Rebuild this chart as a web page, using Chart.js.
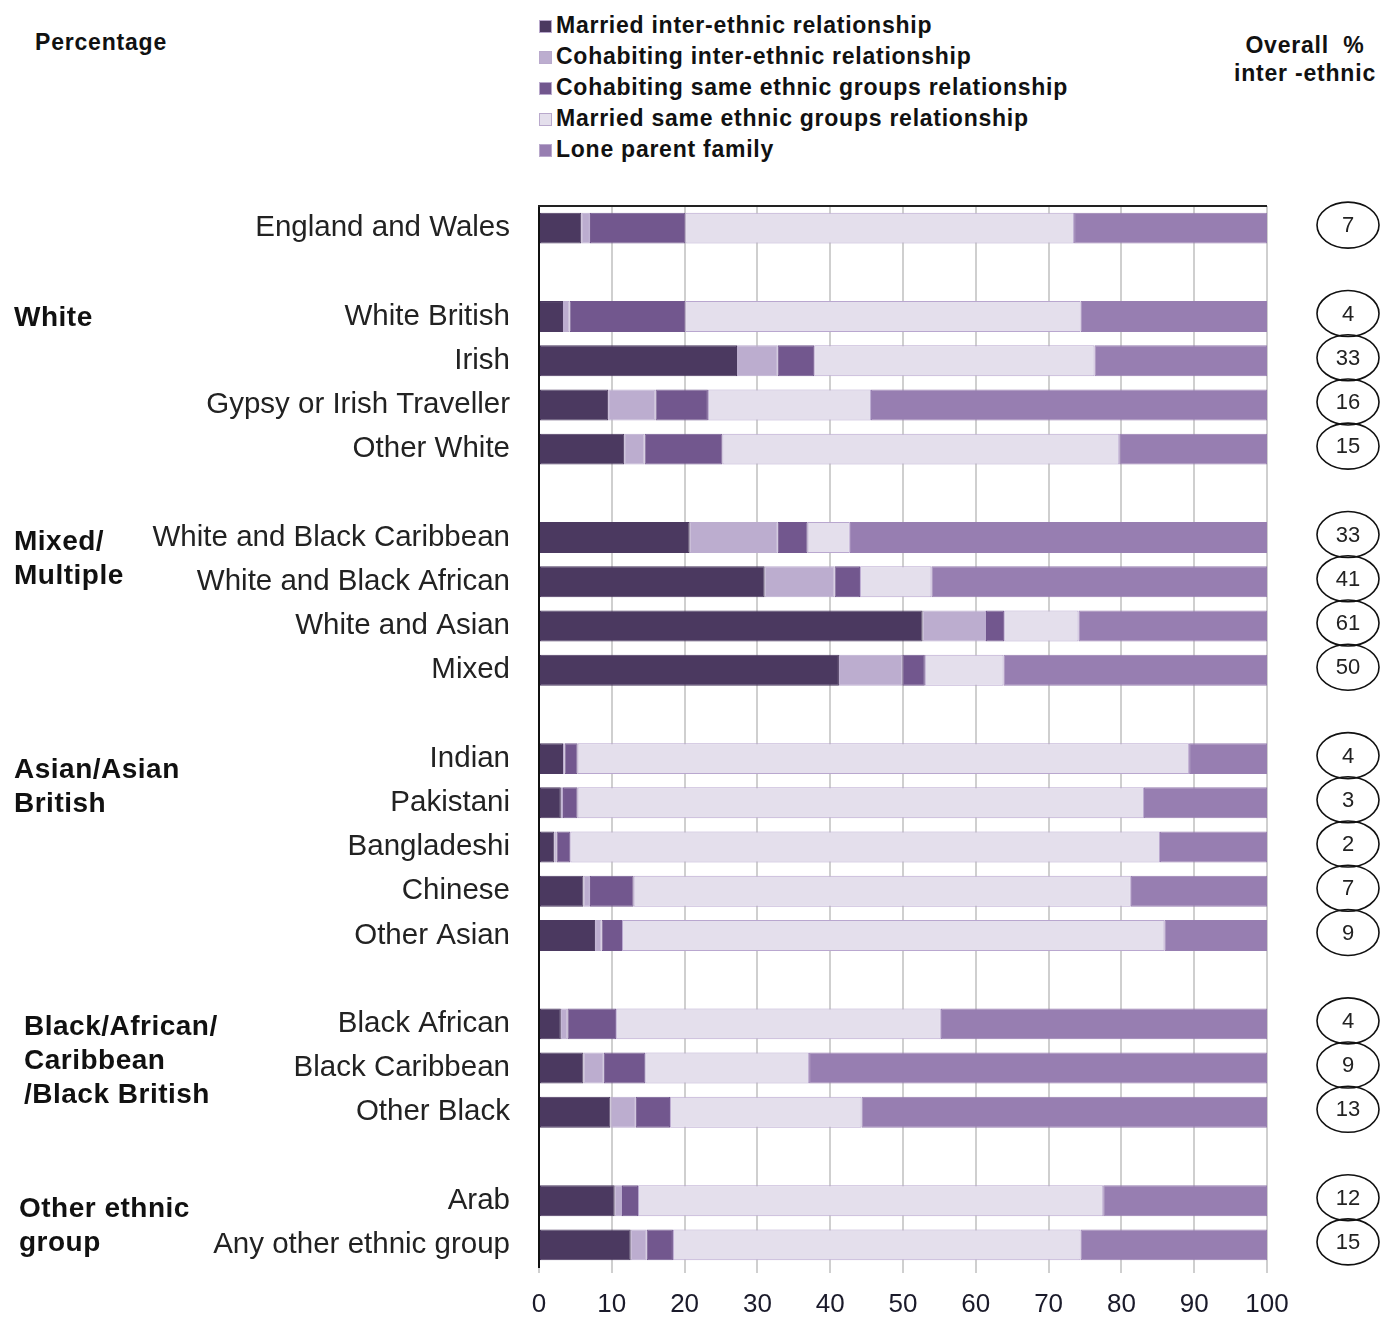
<!DOCTYPE html>
<html>
<head>
<meta charset="utf-8">
<script src="https://cdn.jsdelivr.net/npm/chart.js@4.4.1/dist/chart.umd.min.js"></script>
<style>
  html, body { margin: 0; padding: 0; background: #fff; }
  body { width: 1383px; height: 1318px; position: relative; overflow: hidden; font-family: "Liberation Sans", Arial, sans-serif; }
  #wrap { position: absolute; left: 0; top: 0; width: 1383px; height: 1318px; }
  .legend { position: absolute; left: 539px; top: 10px; }
  .legend div { height: 31px; line-height: 31px; font-size: 23px; font-weight: bold; color: #111; white-space: nowrap; letter-spacing: 0.75px; }
  .legend span.sw { display: inline-block; width: 13px; height: 13px; margin-right: 4px; vertical-align: 0px; box-sizing: border-box; border: 1px solid #b9a9cc; }
  .pct { position: absolute; left: 35px; top: 29px; font-size: 23px; font-weight: bold; color: #111; letter-spacing: 0.8px; }
  .overall { position: absolute; left: 1225px; top: 31px; width: 160px; text-align: center; font-size: 23px; font-weight: bold; color: #111; line-height: 28px; letter-spacing: 0.8px; }
</style>
</head>
<body>
<div class="pct">Percentage</div>
<div class="legend" id="legend"></div>
<div class="overall">Overall &nbsp;%<br>inter -ethnic</div>
<div id="wrap"><canvas id="chart"></canvas></div>
<script>
// categories ('' = spacer row between groups)
const categories = [
  "England and Wales", "",
  "White British", "Irish", "Gypsy or Irish Traveller", "Other White", "",
  "White and Black Caribbean", "White and Black African", "White and Asian", "Mixed", "",
  "Indian", "Pakistani", "Bangladeshi", "Chinese", "Other Asian", "",
  "Black African", "Black Caribbean", "Other Black", "",
  "Arab", "Any other ethnic group"
];

// series values (percent of families)
const marriedInter = [5.8, null, 3.3, 27.2, 9.5, 11.7, null, 20.7, 31.0, 52.7, 41.2, null, 3.3, 3.0, 2.1, 6.1, 7.7, null, 3.0, 6.1, 9.8, null, 10.4, 12.6];
const cohabInter   = [1.2, null, 0.9, 5.6, 6.5, 2.8, null, 12.1, 9.6, 8.7, 8.7, null, 0.2, 0.3, 0.3, 0.9, 0.9, null, 0.9, 2.8, 3.5, null, 1.0, 2.2];
const cohabSame    = [13.1, null, 15.9, 5.0, 7.2, 10.7, null, 4.1, 3.5, 2.5, 3.1, null, 1.8, 2.0, 1.9, 6.0, 2.8, null, 6.7, 5.7, 4.7, null, 2.2, 3.6];
const marriedSame  = [53.4, null, 54.3, 38.5, 22.4, 54.5, null, 5.8, 9.8, 10.2, 10.8, null, 84.0, 77.8, 81.0, 68.3, 74.5, null, 44.6, 22.5, 26.3, null, 63.9, 56.0];
const loneParent   = [26.5, null, 25.6, 23.7, 54.4, 20.3, null, 57.3, 46.1, 25.9, 36.2, null, 10.7, 16.9, 14.7, 18.7, 14.1, null, 44.8, 62.9, 55.7, null, 22.5, 25.6];

// overall % inter-ethnic (circled numbers on the right)
const overallPct = [7, null, 4, 33, 16, 15, null, 33, 41, 61, 50, null, 4, 3, 2, 7, 9, null, 4, 9, 13, null, 12, 15];

// x axis ticks
const xTicks = [0, 10, 20, 30, 40, 50, 60, 70, 80, 90, 100];

// group headings on the left, anchored to a row
const groupNames = [
  ["White"],
  ["Mixed/", "Multiple"],
  ["Asian/Asian", "British"],
  ["Black/African/", "Caribbean", "/Black British"],
  ["Other ethnic", "group"]
];
const groupRows = ["White British", "White and Black Caribbean", "Indian", "Black African", "Arab"];

const seriesNames = [
  "Married inter-ethnic relationship",
  "Cohabiting inter-ethnic relationship",
  "Cohabiting same ethnic groups relationship",
  "Married same ethnic groups relationship",
  "Lone parent family"
];
const seriesColors = ["#4b3960", "#bcadcf", "#72578e", "#e4dfec", "#977eb1"];
const seriesBorders = ["#4b3960", "#bcadcf", "#72578e", "#b9a7cf", "#977eb1"];
const seriesData = [marriedInter, cohabInter, cohabSame, marriedSame, loneParent];

const FONT = '"Liberation Sans", Arial, sans-serif';

// html legend
const legend = document.getElementById("legend");
seriesNames.forEach((name, i) => {
  const row = document.createElement("div");
  row.innerHTML = `<span class="sw" style="background:${seriesColors[i]}"></span>${name}`;
  legend.appendChild(row);
});

const extras = {
  id: "extras",
  afterDraw(chart) {
    const { ctx, chartArea, scales } = chart;
    const y = scales.y;
    ctx.save();
    // top frame line
    ctx.strokeStyle = "#222";
    ctx.lineWidth = 2;
    ctx.beginPath();
    ctx.moveTo(chartArea.left - 1, chartArea.top);
    ctx.lineTo(chartArea.right, chartArea.top);
    ctx.stroke();

    // group headings
    ctx.fillStyle = "#111";
    ctx.font = "bold 28px " + FONT;
    ctx.letterSpacing = "0.5px";
    ctx.textAlign = "left";
    ctx.textBaseline = "middle";
    const xs = [14, 14, 14, 24, 19];
    const dy = [2, 5, 12, 3, 9];
    groupNames.forEach((lines, g) => {
      const idx = categories.indexOf(groupRows[g]);
      const y0 = y.getPixelForValue(idx);
      lines.forEach((t, k) => ctx.fillText(t, xs[g], y0 + dy[g] + k * 34));
    });

    // circled overall numbers
    ctx.letterSpacing = "0px";
    ctx.font = "22px " + FONT;
    ctx.textAlign = "center";
    overallPct.forEach((v, i) => {
      if (v == null) return;
      const cy = y.getPixelForValue(i) - 3;
      const cx = 1348;
      ctx.beginPath();
      ctx.ellipse(cx, cy, 31, 23, 0, 0, Math.PI * 2);
      ctx.strokeStyle = "#111";
      ctx.lineWidth = 1.6;
      ctx.stroke();
      ctx.fillStyle = "#222";
      ctx.fillText(String(v), cx, cy + 1);
    });
    ctx.restore();
  }
};

new Chart(document.getElementById("chart"), {
  type: "bar",
  data: {
    labels: categories,
    datasets: seriesData.map((d, i) => ({
      label: seriesNames[i],
      data: d,
      backgroundColor: seriesColors[i],
      borderColor: seriesBorders[i],
      borderWidth: 1,
      borderSkipped: false,
      categoryPercentage: 1,
      barPercentage: 0.7
    }))
  },
  options: {
    indexAxis: "y",
    responsive: true,
    maintainAspectRatio: false,
    animation: false,
    layout: { padding: { left: 0, right: 116, top: 206, bottom: 0 } },
    plugins: { legend: { display: false }, tooltip: { enabled: false } },
    scales: {
      x: {
        stacked: true,
        min: 0,
        max: 100,
        afterBuildTicks: (s) => { s.ticks = xTicks.map((v) => ({ value: v })); },
        afterFit: (s) => { s.height = 51; },
        ticks: { color: "#1a1a2a", font: { family: FONT, size: 26 }, padding: 16, maxRotation: 0 },
        grid: { color: "#cfcfcf", lineWidth: 2, tickLength: 6, drawOnChartArea: true },
        border: { display: false }
      },
      y: {
        stacked: true,
        afterFit: (s) => { s.width = 539; },
        ticks: { color: "#222", font: { family: FONT, size: 29.5 }, padding: 29, autoSkip: false },
        grid: { display: false, drawTicks: false },
        border: { display: true, color: "#111", width: 2 }
      }
    }
  },
  plugins: [extras]
});
</script>
</body>
</html>
